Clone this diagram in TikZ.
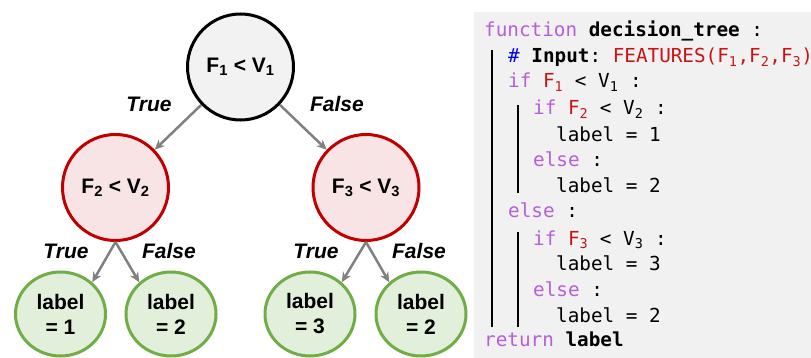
\documentclass[tikz,border=0pt]{standalone}
\usepackage{fontspec}
\setmainfont{Liberation Sans}
\setmonofont{DejaVu Sans Mono}
\usetikzlibrary{arrows.meta,shapes.geometric}

\definecolor{rootfill}{HTML}{F2F2F2}
\definecolor{splitfill}{HTML}{F8E4E4}
\definecolor{splitline}{HTML}{C00000}
\definecolor{leaffill}{HTML}{E2EFDA}
\definecolor{leafline}{HTML}{70AD47}
\definecolor{arrowgray}{HTML}{808080}
\definecolor{codebg}{HTML}{F1F1F1}
\definecolor{kwpurple}{HTML}{B65FD8}
\definecolor{varred}{HTML}{C81414}

\newcommand{\kw}[1]{\textcolor{kwpurple}{#1}}
\newcommand{\fvar}[1]{\textcolor{varred}{#1}}
\newcommand{\idx}[1]{\textsubscript{#1}}

\tikzset{
  treefont/.style={font=\fontsize{21}{25}\selectfont\bfseries},
  rootnode/.style={circle, draw=black, fill=rootfill, line width=3pt, minimum size=106pt, inner sep=0pt, treefont},
  splitnode/.style={circle, draw=splitline, fill=splitfill, line width=3pt, minimum size=106pt, inner sep=0pt, treefont},
  leafnode/.style={ellipse, draw=leafline, fill=leaffill, line width=3pt, minimum width=90pt, minimum height=84pt, inner sep=0pt, align=center, treefont},
  branch/.style={draw=arrowgray, line width=2.5pt, -{Stealth[length=10pt,width=9pt]}},
  branchlabel/.style={font=\fontsize{21}{25}\selectfont\bfseries\itshape, inner sep=0pt},
  codeline/.style={anchor=base west, inner sep=0pt, font=\ttfamily\fontsize{19.3}{24}\selectfont}
}

\begin{document}
\begin{tikzpicture}[x=1pt,y=-1pt]
\useasboundingbox (0,0) rectangle (811,358);

% decision tree
\node[rootnode] (root) at (240.5,67) {F\idx{1} < V\idx{1}};
\node[splitnode] (split1) at (115.5,187.5) {F\idx{2} < V\idx{2}};
\node[splitnode] (split2) at (366,187.5) {F\idx{3} < V\idx{3}};
\node[leafnode] (leaf1) at (60.5,314) {label\\= 1};
\node[leafnode] (leaf2) at (171,314) {label\\= 2};
\node[leafnode] (leaf3) at (310,314) {label\\= 3};
\node[leafnode] (leaf4) at (421,314) {label\\= 2};

\draw[branch] (root) -- (split1);
\draw[branch] (root) -- (split2);
\draw[branch] (split1.south) -- (leaf1.45);
\draw[branch] (split1.south) -- (leaf2.135);
\draw[branch] (split2.south) -- (leaf3.45);
\draw[branch] (split2.south) -- (leaf4.135);

\node[branchlabel] (t1) at (149,104) {True};
\node[branchlabel] (f1) at (337,104) {False};
\node[branchlabel] (t2) at (66,251) {True};
\node[branchlabel] (f2) at (169,251) {False};
\node[branchlabel] (t3) at (316,251) {True};
\node[branchlabel] (f3) at (419,251) {False};

% pseudo code
\fill[codebg] (474,12) rectangle (811,358);
\draw[line width=2.5pt] (492,50) -- (492,327);
\draw[line width=2.5pt] (518,105) -- (518,193);
\draw[line width=2.5pt] (518,232) -- (518,327);

\node[codeline] (c1) at (484,37) {\kw{function} \textbf{decision\_tree} :};
\node[codeline] (c2) at (508,63) {\textcolor{blue}{\#} \textbf{Input}: \fvar{FEATURES(F\idx{1},F\idx{2},F\idx{3})}};
\node[codeline] (c3) at (508,88) {\kw{if} \fvar{F\idx{1}} < V\idx{1} :};
\node[codeline] (c4) at (533,115) {\kw{if} \fvar{F\idx{2}} < V\idx{2} :};
\node[codeline] (c5) at (556,141.7) {label = 1};
\node[codeline] (c6) at (533,166.7) {\kw{else} :};
\node[codeline] (c7) at (556,193) {label = 2};
\node[codeline] (c8) at (508,218) {\kw{else} :};
\node[codeline] (c9) at (533,245) {\kw{if} \fvar{F\idx{3}} < V\idx{3} :};
\node[codeline] (c10) at (556,270.7) {label = 3};
\node[codeline] (c11) at (533,296.7) {\kw{else} :};
\node[codeline] (c12) at (556,322.7) {label = 2};
\node[codeline] (c13) at (484,346.7) {\kw{return} \textbf{label}};
\end{tikzpicture}
\end{document}
